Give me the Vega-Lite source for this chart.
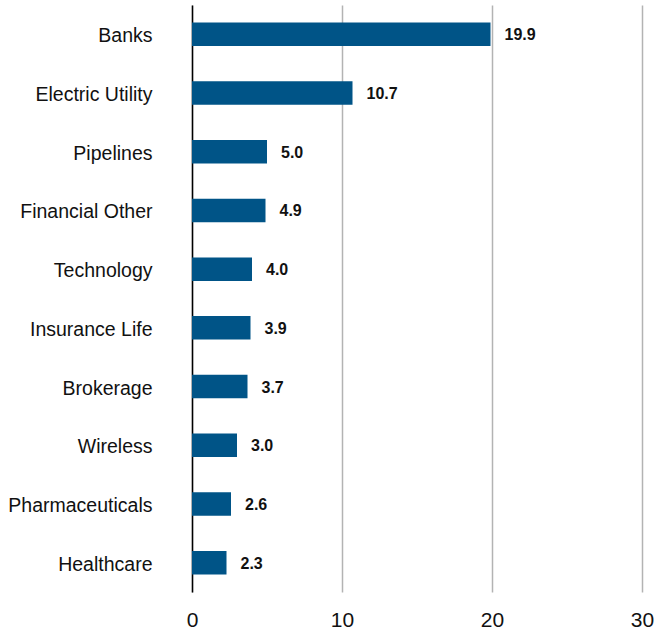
{
  "$schema": "https://vega.github.io/schema/vega-lite/v6.json",
  "autosize": {"type": "none"},
  "padding": {"left": 192, "top": 5, "right": 13, "bottom": 48},
  "width": 450,
  "height": 587,
  "background": "white",
  "config": {"view": {"stroke": null}},
  "data": {"values": [
    {"sector": "Banks", "value": 19.9},
    {"sector": "Electric Utility", "value": 10.7},
    {"sector": "Pipelines", "value": 5.0},
    {"sector": "Financial Other", "value": 4.9},
    {"sector": "Technology", "value": 4.0},
    {"sector": "Insurance Life", "value": 3.9},
    {"sector": "Brokerage", "value": 3.7},
    {"sector": "Wireless", "value": 3.0},
    {"sector": "Pharmaceuticals", "value": 2.6},
    {"sector": "Healthcare", "value": 2.3}
  ]},
  "encoding": {
    "y": {"field": "sector", "type": "nominal", "sort": null,
      "scale": {"paddingInner": 0.6, "paddingOuter": 0.3},
      "axis": {"title": null, "ticks": false, "domain": true, "domainColor": "#000000", "domainWidth": 1.5,
        "labelFont": "Liberation Sans", "labelFontSize": 19.5, "labelColor": "#111111", "labelPadding": 40,
        "labelOffset": 2}},
    "x": {"field": "value", "type": "quantitative",
      "scale": {"domain": [0, 30]},
      "axis": {"title": null, "values": [0, 10, 20, 30], "ticks": false, "domain": false,
        "grid": true, "gridColor": "#b3b3b3", "gridWidth": 1.5,
        "labelFont": "Liberation Sans", "labelFontSize": 21, "labelColor": "#111111", "labelPadding": 17,
        "labelFlush": false}}
  },
  "layer": [
    {"mark": {"type": "bar", "color": "#005487"}},
    {"mark": {"type": "text", "align": "left", "dx": 14, "dy": 1, "font": "Liberation Sans", "fontWeight": "bold", "fontSize": 16, "color": "#111111"},
      "encoding": {"text": {"field": "value", "type": "quantitative", "format": ".1f"}}}
  ]
}
